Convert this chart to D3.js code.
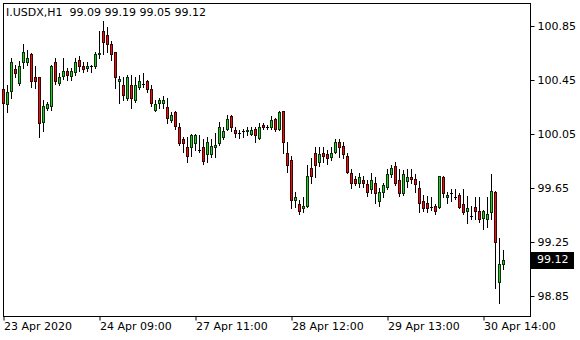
<!DOCTYPE html>
<html><head><meta charset="utf-8">
<script src="https://cdn.jsdelivr.net/npm/d3@7"></script>
<style>
html,body{margin:0;padding:0;background:#fff;}
svg{display:block;}
text{font-family:"DejaVu Sans",sans-serif;}
</style></head>
<body><svg id="c" width="580" height="340"></svg>
<script>
const symbol = "I.USDX,H1";
const open = [
100.38,100.27,100.37,100.53,100.43,100.58,100.58,100.64,100.47,100.47,
100.14,100.24,100.26,100.58,100.43,100.48,100.52,100.48,100.51,100.60,
100.55,100.54,100.55,100.55,100.64,100.81,100.78,100.72,100.66,100.44,
100.41,100.32,100.41,100.30,100.40,100.42,100.44,100.38,100.23,100.28,
100.28,100.25,100.15,100.21,100.10,100.01,99.95,99.95,99.98,99.93,
99.95,99.90,99.90,99.95,99.98,100.03,100.09,100.18,100.08,100.06,
100.07,100.07,100.05,100.09,100.02,100.12,100.10,100.10,100.16,100.09,
100.22,99.91,99.86,99.56,99.53,99.50,99.52,99.80,99.91,99.84,
99.91,99.90,99.88,99.92,99.99,99.96,99.89,99.76,99.72,99.69,
99.71,99.68,99.64,99.69,99.55,99.62,99.66,99.75,99.81,99.71,
99.61,99.70,99.73,99.72,99.65,99.55,99.54,99.51,99.52,99.51,
99.73,99.58,99.61,99.58,99.60,99.53,99.48,99.44,99.51,99.48,
99.43,99.42,99.47,99.62,98.95,99.09];
const high = [
100.41,100.41,100.61,100.56,100.59,100.72,100.67,100.65,100.55,100.47,
100.30,100.29,100.56,100.61,100.50,100.61,100.54,100.54,100.61,100.63,
100.58,100.58,100.56,100.66,100.81,100.89,100.84,100.74,100.66,100.48,
100.47,100.49,100.49,100.47,100.49,100.50,100.45,100.41,100.30,100.32,
100.33,100.32,100.21,100.22,100.13,100.03,100.03,100.05,100.05,100.04,
100.01,100.03,100.01,100.06,100.14,100.10,100.19,100.19,100.10,100.08,
100.09,100.10,100.10,100.10,100.13,100.13,100.12,100.18,100.17,100.22,
100.22,99.99,99.89,99.62,99.56,99.58,99.82,99.87,99.95,99.95,
99.95,99.93,99.95,100.01,100.01,99.99,99.91,99.79,99.74,99.76,
99.74,99.71,99.76,99.73,99.65,99.69,99.79,99.82,99.84,99.79,
99.78,99.79,99.79,99.75,99.70,99.60,99.59,99.58,99.53,99.74,
99.74,99.62,99.64,99.64,99.61,99.64,99.59,99.52,99.58,99.58,
99.49,99.58,99.75,99.63,99.28,99.19];
const low = [
100.23,100.21,100.32,100.47,100.41,100.54,100.56,100.40,100.39,100.03,
100.07,100.23,100.23,100.42,100.41,100.46,100.45,100.45,100.49,100.52,
100.51,100.52,100.51,100.54,100.61,100.64,100.66,100.60,100.39,100.28,
100.30,100.30,100.24,100.29,100.38,100.40,100.36,100.26,100.22,100.24,
100.24,100.13,100.14,100.09,99.97,99.92,99.84,99.89,99.93,99.92,
99.83,99.84,99.88,99.88,99.97,100.01,100.08,100.07,100.03,100.02,
100.03,100.04,100.04,99.99,100.01,100.09,100.09,100.09,100.07,100.08,
99.91,99.77,99.50,99.51,99.46,99.47,99.51,99.69,99.73,99.81,
99.84,99.83,99.86,99.91,99.88,99.87,99.76,99.65,99.67,99.66,
99.66,99.59,99.61,99.54,99.52,99.58,99.64,99.73,99.67,99.59,
99.60,99.66,99.69,99.62,99.47,99.48,99.47,99.49,99.46,99.50,
99.58,99.54,99.55,99.57,99.50,99.46,99.39,99.42,99.42,99.40,
99.35,99.36,99.42,98.91,98.80,99.05];
const close = [
100.28,100.36,100.58,100.50,100.55,100.66,100.61,100.44,100.44,100.13,
100.26,100.27,100.55,100.44,100.47,100.52,100.49,100.52,100.58,100.55,
100.53,100.55,100.55,100.64,100.65,100.73,100.72,100.64,100.47,100.46,
100.34,100.47,100.32,100.41,100.44,100.42,100.38,100.28,100.27,100.30,
100.30,100.17,100.19,100.11,99.98,99.98,99.89,100.04,100.04,99.93,
99.85,99.99,99.96,99.97,100.10,100.07,100.16,100.10,100.06,100.06,
100.07,100.08,100.08,100.04,100.10,100.10,100.10,100.15,100.09,100.21,
99.99,99.82,99.56,99.58,99.48,99.52,99.74,99.74,99.82,99.90,
99.89,99.87,99.91,99.99,99.95,99.90,99.77,99.69,99.69,99.73,
99.69,99.62,99.71,99.61,99.62,99.67,99.75,99.80,99.69,99.61,
99.75,99.73,99.72,99.68,99.54,99.50,99.50,99.51,99.48,99.74,
99.61,99.60,99.61,99.58,99.51,99.47,99.50,99.44,99.48,99.42,
99.48,99.46,99.63,99.25,99.09,99.12];
const xTickIndex = [0, 24, 48, 72, 96, 120];
const xTickLabels = ["23 Apr 2020", "24 Apr 09:00", "27 Apr 11:00", "28 Apr 12:00", "29 Apr 13:00", "30 Apr 14:00"];
const yTickValues = [98.85, 99.25, 99.65, 100.05, 100.45, 100.85];

const svg = d3.select("#c");
const frame = {left: 3, top: 3, right: 530, bottom: 316};
const n = open.length;
const x = d3.scaleLinear().domain([0, n - 1]).range([3.5, 3.5 + 4 * (n - 1)]);
const y = d3.scaleLinear().domain([98.85, 100.85]).range([296, 26]);
const UP = "#28c828", DOWN = "#e81010";

// frame
svg.append("rect").attr("x", frame.left + 0.5).attr("y", frame.top + 0.5)
  .attr("width", frame.right - frame.left).attr("height", frame.bottom - frame.top)
  .attr("fill", "none").attr("stroke", "#000").attr("stroke-width", 1);

const g = svg.append("g");
const data = d3.range(n).map(i => ({i, o: open[i], h: high[i], l: low[i], c: close[i]}));
const cand = g.selectAll("g.c").data(data).join("g");
cand.each(function(d) {
  const s = d3.select(this);
  const cx = Math.floor(x(d.i));
  const yh = Math.round(y(d.h)), yl = Math.round(y(d.l));
  const top = Math.round(y(Math.max(d.o, d.c))), bot = Math.round(y(Math.min(d.o, d.c)));
  s.append("rect").attr("x", cx).attr("y", yh).attr("width", 1).attr("height", Math.max(1, yl - yh + 1)).attr("fill", "#000");
  if (bot - top < 1) {
    s.append("rect").attr("x", cx - 1).attr("y", top).attr("width", 3).attr("height", 1).attr("fill", "#000");
  } else {
    s.append("rect").attr("x", cx - 1).attr("y", top).attr("width", 3).attr("height", bot - top + 1)
      .attr("fill", d.c >= d.o ? UP : DOWN);
    s.append("rect").attr("x", cx - 0.5).attr("y", top + 0.5).attr("width", 2).attr("height", bot - top)
      .attr("fill", "none").attr("stroke", "#000").attr("stroke-opacity", 0.75).attr("stroke-width", 1);
  }
});

// y axis
const yAxis = svg.append("g").attr("transform", `translate(${frame.right + 0.5},0)`)
  .call(d3.axisRight(y).tickValues(yTickValues).tickSize(4).tickPadding(3).tickFormat(d3.format(".2f")));
yAxis.select(".domain").remove();
yAxis.selectAll("line").attr("stroke", "#000");
yAxis.selectAll("text").attr("font-size", 11).attr("font-family", "DejaVu Sans").attr("fill", "#000");

// x axis
const xAxis = svg.append("g").attr("transform", `translate(0,${frame.bottom + 0.5})`)
  .call(d3.axisBottom(x).tickValues(xTickIndex).tickSize(4).tickPadding(2).tickFormat((d, i) => xTickLabels[i]));
xAxis.select(".domain").remove();
xAxis.selectAll("line").attr("stroke", "#000");
xAxis.selectAll("text").attr("font-size", 11).attr("font-family", "DejaVu Sans").attr("fill", "#000")
  .attr("text-anchor", "start");

// current price label
const last = close[n - 1];
const ly = y(last);
svg.append("rect").attr("x", frame.right + 1).attr("y", Math.round(ly) - 8).attr("width", 43).attr("height", 17).attr("fill", "#000");
svg.append("text").attr("x", frame.right + 7).attr("y", ly).attr("dy", "0.35em")
  .attr("font-size", 11).attr("fill", "#fff").text(d3.format(".2f")(last));

// title
svg.append("text").attr("x", 6).attr("y", 12).attr("dy", "0.35em").attr("font-size", 11).attr("fill", "#000")
  .style("white-space", "pre")
  .text(`${symbol}  ${open[n-1].toFixed(2)} ${high[n-1].toFixed(2)} ${low[n-1].toFixed(2)} ${close[n-1].toFixed(2)}`);
</script></body></html>
